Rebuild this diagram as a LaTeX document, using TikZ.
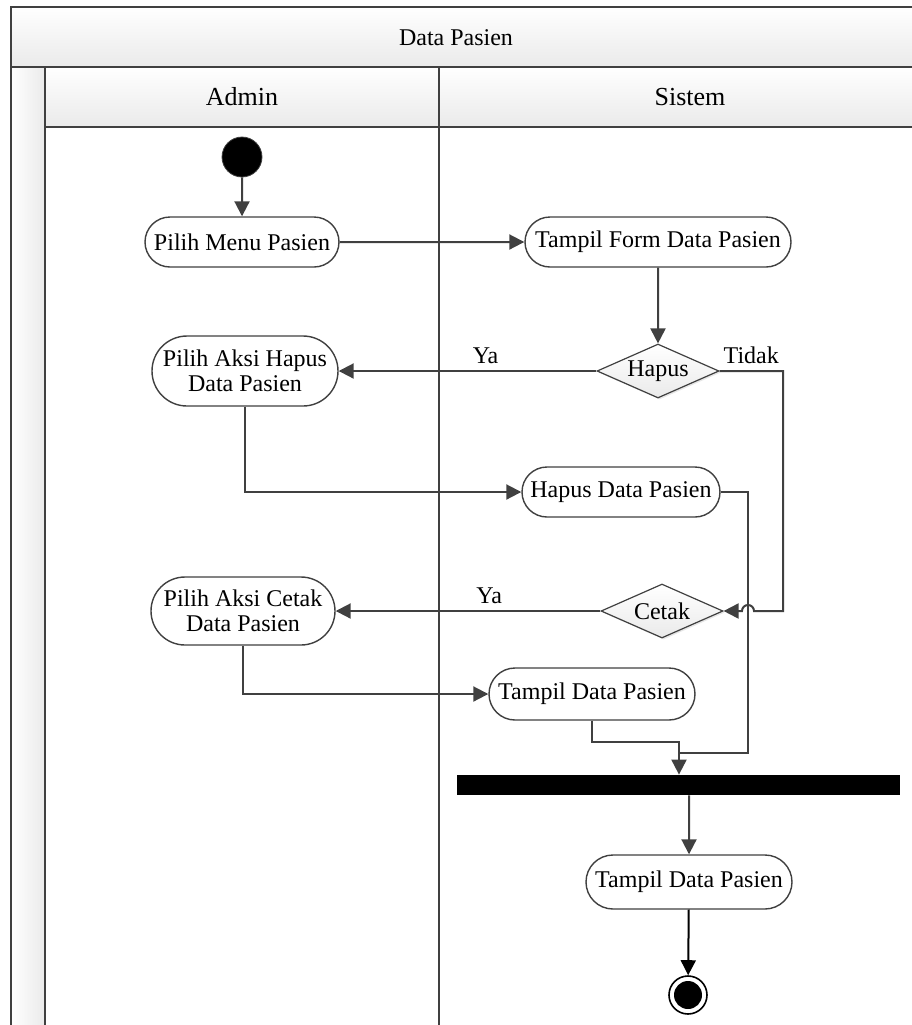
\documentclass[tikz,border=0pt]{standalone}
\usepackage{fontspec}
\setmainfont{Liberation Serif}
\usetikzlibrary{shapes.geometric,shapes.misc,arrows.meta,shadows}

\definecolor{linegray}{HTML}{404040}
\definecolor{headgray}{HTML}{EAEAEA}

\begin{document}
\begin{tikzpicture}[x=0.5pt, y=-0.5pt,
  font=\fontsize{12}{12.5}\selectfont,
  activity/.style={rounded rectangle, draw=linegray, line width=0.7pt, fill=white, minimum height=25pt, inner sep=2pt, align=center},
  decision/.style={diamond, aspect=2.3, draw=linegray, line width=0.6pt, top color=white, bottom color=headgray, minimum width=61pt, minimum height=27pt, inner sep=0pt, drop shadow={opacity=0.2, shadow xshift=0.8pt, shadow yshift=-0.8pt}},
  flow/.style={draw=linegray, line width=1pt, -{Triangle[length=7.5pt, width=7.5pt]}},
  link/.style={draw=linegray, line width=1pt},
  lane/.style={draw=linegray, line width=1pt},
  header/.style={font=\fontsize{13}{16}\selectfont}]
  \clip (0,0) rectangle (912,1025);
  % Pool and lanes
  \shade[top color=white, bottom color=headgray] (11,7) rectangle (940,67);
  \shade[left color=white, right color=headgray] (11,67) rectangle (45,1040);
  \shade[top color=white, bottom color=headgray] (45,67) rectangle (940,127);
  \draw[lane] (940,7) -- (11,7) -- (11,1040);
  \draw[lane] (11,67) -- (940,67);
  \draw[lane] (45,67) -- (45,1040);
  \draw[lane] (45,127) -- (940,127);
  \draw[lane] (439,67) -- (439,1040);
  % Headers
  \node (title) [header, font=\fontsize{12}{16}\selectfont] at (456,38) {Data Pasien};
  \node (admin) [header] at (242,97) {Admin};
  \node (sistem) [header] at (690,97) {Sistem};
  % Nodes
  \node (start) [circle, fill=black, draw=linegray, minimum size=20pt, inner sep=0pt] at (242,157) {};
  \node (menu) [activity, minimum width=101pt] at (242,242) {Pilih Menu Pasien};
  \node (form) [activity, minimum width=137pt] at (658,242) {Tampil Form Data Pasien};
  \node (hapus) [decision] at (658,371) {Hapus};
  \node (aksihapus) [activity, minimum width=97pt, minimum height=35pt] at (245,371) {Pilih Aksi Hapus\\Data Pasien};
  \node (hapusdata) [activity, minimum width=103pt] at (621,492) {Hapus Data Pasien};
  \node (cetak) [decision] at (662,611) {Cetak};
  \node (aksicetak) [activity, minimum width=96pt, minimum height=34pt] at (243,611) {Pilih Aksi Cetak\\Data Pasien};
  \node (tampil) [activity, minimum width=107pt, minimum height=26pt] at (592,694) {Tampil Data Pasien};
  \node (bar) [fill=black, minimum width=221.5pt, minimum height=10pt, inner sep=0pt] at (678.5,785) {};
  \node (tampilakhir) [activity, minimum width=107pt, minimum height=27pt] at (689,882) {Tampil Data Pasien};
  \node (end) [circle, draw=black, line width=0.8pt, minimum size=19pt, inner sep=0pt] at (688,995) {};
  \fill (end) circle (7pt);
  \coordinate (merge) at (679,742);
  \coordinate (hapusjoin) at (679,753);
  % Arrows
  \draw[flow] (start) -- (menu);
  \draw[flow] (menu) -- (form);
  \draw[flow] (form) -- (hapus);
  \draw[flow] (hapus.west) -- node[above, pos=0.43] {Ya} (hapus.west -| aksihapus.east);
  \draw[flow] (hapus.east) -- node[above] {Tidak} (783,371) -- (783,611) -- (754,611) arc (0:-180:6) -- (cetak.east);
  \draw[flow] (aksihapus) |- (hapusdata);
  \draw[flow] (cetak.west) -- node[above, pos=0.42] {Ya} (cetak.west -| aksicetak.east);
  \draw[flow] (aksicetak) |- (tampil);
  \draw[link] (hapusdata.east) -| (748,753) -- (hapusjoin);
  \draw[flow] (tampil) |- (merge) -- (merge |- bar.north);
  \draw[flow] (bar.south -| tampilakhir.north) -- (tampilakhir);
  \draw[flow, draw=black] (tampilakhir) -- (end);
\end{tikzpicture}
\end{document}
